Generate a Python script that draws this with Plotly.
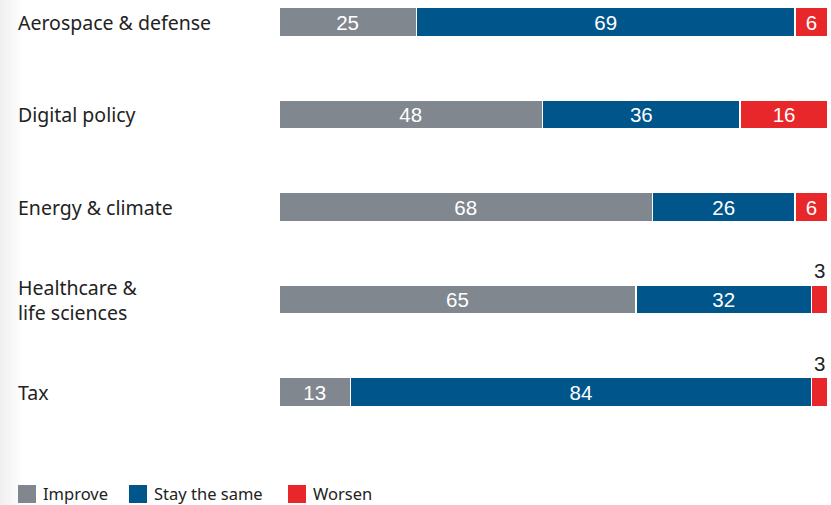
import plotly.graph_objects as go

sectors = ["Aerospace & defense", "Digital policy", "Energy & climate",
           "Healthcare &<br>life sciences", "Tax"]
series_names = ["Improve", "Stay the same", "Worsen"]
improve = [25, 48, 68, 65, 13]
stay_same = [69, 36, 26, 32, 84]
worsen = [6, 16, 6, 3, 3]
colors = ["#80878f", "#00558b", "#e8272b"]

W, H = 831, 505
M_L, M_R, M_T, M_B = 279, 3, 0, 55
plot_w = W - M_L - M_R
plot_h = H - M_T - M_B

fig = go.Figure()
values = [improve, stay_same, worsen]
small = 4  # segments narrower than this get their label above the bar
for name, vals, col in zip(series_names, values, colors):
    fig.add_trace(go.Bar(
        y=sectors, x=vals, name=name, orientation="h",
        marker=dict(color=col, line=dict(color="white", width=1.5)),
        text=[str(v) if v >= small else "" for v in vals],
        textposition="inside", insidetextanchor="middle",
        textfont=dict(family="Liberation Sans, Arial", size=20.5, color="white"),
        width=0.315, showlegend=False, hoverinfo="skip",
    ))

annotations = []
# labels for narrow segments, placed above the bar
for i, s in enumerate(sectors):
    for k, vals in enumerate(values):
        v = vals[i]
        if v < small:
            start = sum(values[j][i] for j in range(k))
            annotations.append(dict(
                x=start + v / 2, y=s, xref="x", yref="y", text=str(v),
                showarrow=False, yshift=29,
                font=dict(family="Liberation Sans, Arial", size=20.5, color="#222222"),
            ))

# category labels, left aligned
for s in sectors:
    annotations.append(dict(
        x=-(M_L - 16) / plot_w, y=s, xref="paper", yref="y", text=s,
        xanchor="left", align="left", showarrow=False,
        font=dict(family="Noto Sans", size=19.5, color="#222222"),
    ))

# legend
shapes = []
leg_x = [18, 129, 288]
for name, col, lx in zip(series_names, colors, leg_x):
    shapes.append(dict(type="rect", xref="paper", yref="paper",
                       x0=(lx - M_L) / plot_w, x1=(lx + 18 - M_L) / plot_w,
                       y0=(plot_h - (485 - M_T)) / plot_h,
                       y1=(plot_h - (503 - M_T)) / plot_h,
                       fillcolor=col, line=dict(width=0), layer="above"))
    annotations.append(dict(
        x=(lx + 24 - M_L) / plot_w, y=(plot_h - (493 - M_T)) / plot_h,
        xref="paper", yref="paper", text=name, xanchor="left", yanchor="middle",
        borderpad=0, showarrow=False,
        font=dict(family="Noto Sans", size=16.5, color="#222222"),
    ))

# soft shading along the left edge
n_strips = 12
for i in range(n_strips):
    g = int(238 + (255 - 238) * i / n_strips)
    shapes.append(dict(type="rect", xref="paper", yref="paper",
                       x0=(i * 1.8 - M_L) / plot_w, x1=((i + 1) * 1.8 - M_L) / plot_w,
                       y0=-M_B / plot_h, y1=1 + M_T / plot_h,
                       fillcolor=f"rgb({g},{g},{g})", line=dict(width=0), layer="below"))

scale = 92.5
r_top = -(22 - M_T) / scale
r_bottom = r_top + plot_h / scale

fig.update_layout(
    width=W, height=H, margin=dict(l=M_L, r=M_R, t=M_T, b=M_B),
    barmode="stack", paper_bgcolor="white", plot_bgcolor="white",
    xaxis=dict(range=[0, 100], visible=False, fixedrange=True),
    yaxis=dict(range=[r_bottom, r_top], showticklabels=False, showgrid=False,
               zeroline=False, fixedrange=True, categoryorder="array",
               categoryarray=sectors),
    annotations=annotations, shapes=shapes,
    uniformtext=dict(mode=False),
)

fig.write_html("out.html", config={"displayModeBar": False})
